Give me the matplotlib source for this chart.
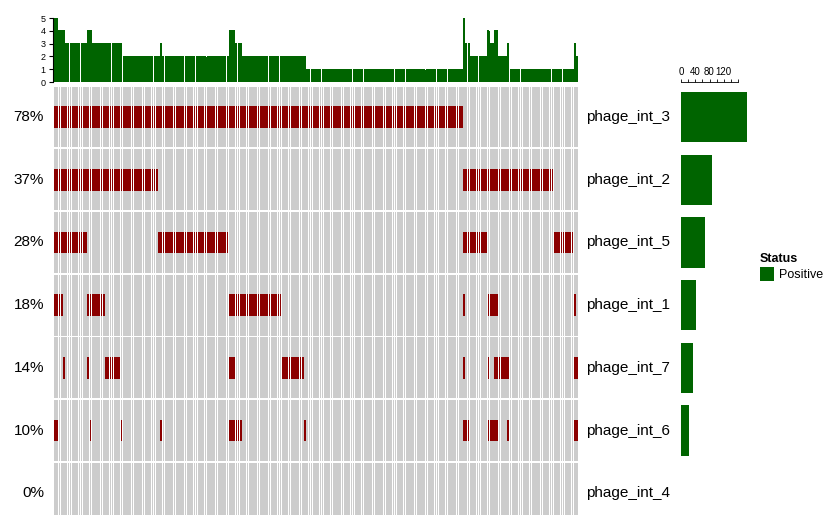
import numpy as np
import matplotlib
matplotlib.use("Agg")
import matplotlib.pyplot as plt
from matplotlib.patches import Rectangle
from matplotlib.transforms import blended_transform_factory

plt.rcParams["font.family"] = ["Liberation Sans", "DejaVu Sans"]

# ---- data -------------------------------------------------------------
n_samples = 237
genes = ["phage_int_3", "phage_int_2", "phage_int_5", "phage_int_1",
         "phage_int_7", "phage_int_6", "phage_int_4"]

# altered samples per gene, as inclusive runs of sample indices
runs_int_3 = [(0, 184)]
runs_int_2 = [(0, 46), (185, 225)]
runs_int_5 = [(0, 14), (47, 78), (185, 195), (226, 234)]
runs_int_1 = [(0, 3), (15, 22), (79, 102), (185, 185), (196, 200), (235, 235)]
runs_int_7 = [(4, 4), (15, 15), (23, 29), (79, 81), (103, 112), (185, 185),
              (196, 196), (199, 205), (235, 236)]
runs_int_6 = [(0, 1), (16, 16), (30, 30), (48, 48), (79, 84), (113, 113),
              (185, 187), (196, 200), (205, 205), (235, 236)]
runs_int_4 = []

gene_runs = [runs_int_3, runs_int_2, runs_int_5, runs_int_1,
             runs_int_7, runs_int_6, runs_int_4]

status_label = "Positive"
legend_title = "Status"

# ---- derived matrix ---------------------------------------------------
mat = np.zeros((len(genes), n_samples), dtype=bool)
for gi, runs in enumerate(gene_runs):
    for a, b in runs:
        mat[gi, a:b + 1] = True
col_counts = mat.sum(axis=0)
row_counts = mat.sum(axis=1)
pct_labels = [f"{round(100 * c / n_samples)}%" for c in row_counts]

# ---- styling ----------------------------------------------------------
W, H = 825, 515
BG_GRAY = "#CCCCCC"
ALTER_RED = "#8B0000"
BAR_GREEN = "#006400"
n_genes = len(genes)


def box(x0, y0, x1, y1):
    """Figure-fraction rectangle from pixel bounds (top-left origin)."""
    return [x0 / W, 1 - y1 / H, (x1 - x0) / W, (y1 - y0) / H]


fig = plt.figure(figsize=(W / 100, H / 100), dpi=100)

mat_top, mat_bot = 85.65, 524.6
ax = fig.add_axes(box(54, mat_top, 578, mat_bot))
ax_top = fig.add_axes(box(54, 18, 578, 82))
ax_r = fig.add_axes(box(681, mat_top, 738, mat_bot))

x = np.arange(n_samples)
cell_w = 0.33
cell_h = 0.955
alter_h = 0.33

# oncoprint grid
for gi in range(n_genes):
    ax.bar(x, cell_h, bottom=gi - cell_h / 2, width=cell_w,
           color=BG_GRAY, linewidth=0, snap=False, antialiased=False)
    hit = x[mat[gi]]
    if len(hit):
        ax.bar(hit, alter_h, bottom=gi - alter_h / 2, width=cell_w,
               color=ALTER_RED, linewidth=0, snap=False, antialiased=False)

ax.set_xlim(-0.5, n_samples - 0.5)
ax.set_ylim(n_genes - 0.5, -0.5)
ax.axis("off")

tr = blended_transform_factory(ax.transAxes, ax.transData)
for gi, g in enumerate(genes):
    ax.text(-0.019, gi, pct_labels[gi], transform=tr, ha="right",
            va="center", fontsize=11)
    ax.text(1.015, gi, g, transform=tr, ha="left", va="center", fontsize=11)

# per-sample alteration counts
ax_top.bar(x, col_counts, width=0.5, color=BAR_GREEN, linewidth=0,
           snap=False, antialiased=False)
ax_top.set_xlim(-0.5, n_samples - 0.5)
ax_top.set_ylim(0, 5)
ax_top.set_yticks(range(0, 6))
ax_top.tick_params(axis="y", labelsize=6.5, length=3, width=0.8, pad=2)
ax_top.set_xticks([])
for s in ["top", "right", "bottom"]:
    ax_top.spines[s].set_visible(False)
ax_top.spines["left"].set_linewidth(0.8)
ax_top.spines["left"].set_position(("outward", 1))

# per-gene alteration counts
ax_r.barh(np.arange(n_genes), row_counts, height=0.8, color=BAR_GREEN,
          linewidth=0, clip_on=False)
ax_r.set_xlim(0, 160)
ax_r.set_ylim(n_genes - 0.5, -0.5)
ax_r.xaxis.set_ticks_position("top")
ax_r.set_xticks(range(0, 161, 20))
ax_r.set_xticklabels([str(v) if v % 40 == 0 and v < 160 else ""
                      for v in range(0, 161, 20)])
ax_r.tick_params(axis="x", labelsize=7, length=2.5, width=0.6, pad=1.5)
ax_r.set_yticks([])
for s in ["bottom", "left", "right"]:
    ax_r.spines[s].set_visible(False)
ax_r.spines["top"].set_linewidth(0.6)
ax_r.spines["top"].set_position(("outward", 2.5))

# legend
fig.text(760 / W, 1 - 259 / H, legend_title, fontsize=9, fontweight="bold",
         ha="left", va="center")
fig.patches.append(Rectangle((760 / W, 1 - 281 / H), 14 / W, 14 / H,
                             transform=fig.transFigure, facecolor=BAR_GREEN,
                             edgecolor="none"))
fig.text(779 / W, 1 - 275 / H, status_label, fontsize=9, ha="left",
         va="center")

fig.savefig("out.png", dpi=100)
